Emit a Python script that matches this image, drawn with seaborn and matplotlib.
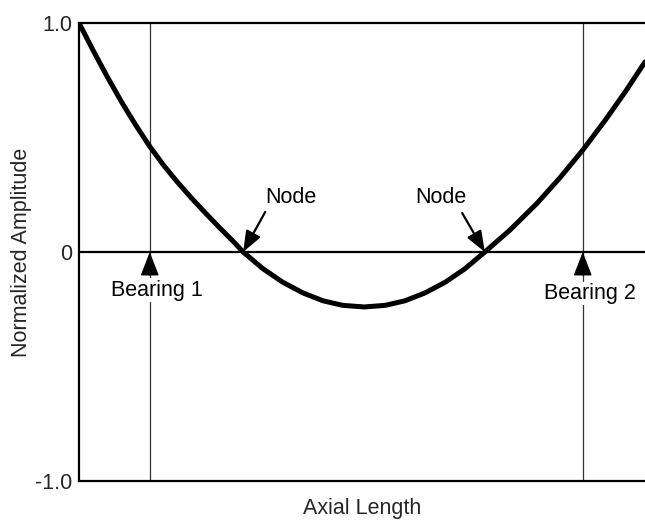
import matplotlib
matplotlib.use("Agg")
import matplotlib.pyplot as plt
import seaborn as sns
import pandas as pd

# Data (axial position 0..1, normalized amplitude)
axial = [0.0, 0.025, 0.05, 0.075, 0.10, 0.125, 0.15, 0.175, 0.20, 0.225, 0.25, 0.275, 0.290,
         0.325, 0.360, 0.396, 0.431, 0.466, 0.504, 0.541, 0.576, 0.611,
         0.647, 0.682, 0.717, 0.761, 0.809, 0.850, 0.890, 0.929, 0.965, 1.0]
amplitude = [1.0, 0.880, 0.765, 0.656, 0.555, 0.461, 0.377, 0.302, 0.232, 0.166, 0.102, 0.040, 0.0,
             -0.073, -0.132, -0.179, -0.213, -0.233, -0.240, -0.233, -0.213, -0.179,
             -0.132, -0.073, 0.0, 0.095, 0.212, 0.325, 0.445, 0.573, 0.699, 0.830]
bearing_x = [0.125, 0.890]
bearing_labels = ["Bearing 1", "Bearing 2"]
bearing_text_x = [0.137, 0.903]
bearing_text_y = [-0.166, -0.180]
node_x = [0.290, 0.717]
node_labels = ["Node", "Node"]
node_text_x = [0.375, 0.640]
node_text_y = [0.236, 0.236]
node_tail_x = [0.329, 0.677]
node_tail_y = [0.175, 0.170]
ytick_vals = [-1.0, 0.0, 1.0]
ytick_labels = ["-1.0", "0", "1.0"]

sns.set_theme(style="white")
plt.rcParams["font.family"] = ["Liberation Sans", "DejaVu Sans"]
FS = 15.5

fig = plt.figure(figsize=(6.45, 5.21), dpi=100)
ax = fig.add_axes([79 / 645, 1 - 481 / 521, 1 - 79 / 645, (481 - 23) / 521])

df = pd.DataFrame({"Axial Length": axial, "Normalized Amplitude": amplitude})
sns.lineplot(data=df, x="Axial Length", y="Normalized Amplitude", ax=ax,
             color="black", linewidth=3.6, sort=False,
             solid_capstyle="round", solid_joinstyle="round", zorder=3)

ax.set_xlim(0, 1)
ax.set_ylim(-1.0, 1.0)
ax.axhline(0, color="black", linewidth=1.6, zorder=2)

for bx in bearing_x:
    ax.axvline(bx, color="#333333", linewidth=0.9, zorder=1)

for bx, tx, ty, lab in zip(bearing_x, bearing_text_x, bearing_text_y, bearing_labels):
    ax.text(tx, ty, lab, ha="center", va="center", fontsize=FS, color="black",
            bbox=dict(boxstyle="square,pad=0.05", fc="white", ec="none"), zorder=4)
    ax.annotate("", xy=(bx, 0.0), xytext=(bx, -0.10), textcoords="data",
                arrowprops=dict(arrowstyle="-|>,head_length=0.75,head_width=0.29",
                                mutation_scale=20, color="black", lw=1.0,
                                shrinkA=0, shrinkB=0),
                zorder=5)

for nx, tx, ty, ax_, ay_, lab in zip(node_x, node_text_x, node_text_y,
                                     node_tail_x, node_tail_y, node_labels):
    ax.text(tx, ty, lab, ha="center", va="center", fontsize=FS, color="black", zorder=4)
    ax.annotate("", xy=(nx, 0.0), xytext=(ax_, ay_), textcoords="data",
                arrowprops=dict(arrowstyle="-|>,head_length=0.7,head_width=0.27",
                                mutation_scale=18, color="black", lw=1.6,
                                shrinkA=0, shrinkB=0),
                zorder=5)

ax.set_yticks(ytick_vals)
ax.set_yticklabels(ytick_labels, fontsize=FS)
ax.set_xticks([])
ax.tick_params(axis="y", length=0, pad=5)
ax.set_xlabel("Axial Length", fontsize=FS, labelpad=12)
ax.set_ylabel("Normalized Amplitude", fontsize=FS, labelpad=2)

for side in ["top", "left", "bottom"]:
    ax.spines[side].set_visible(True)
    ax.spines[side].set_color("black")
    ax.spines[side].set_linewidth(1.6)
ax.spines["right"].set_visible(False)

fig.savefig("out.png", dpi=100)
